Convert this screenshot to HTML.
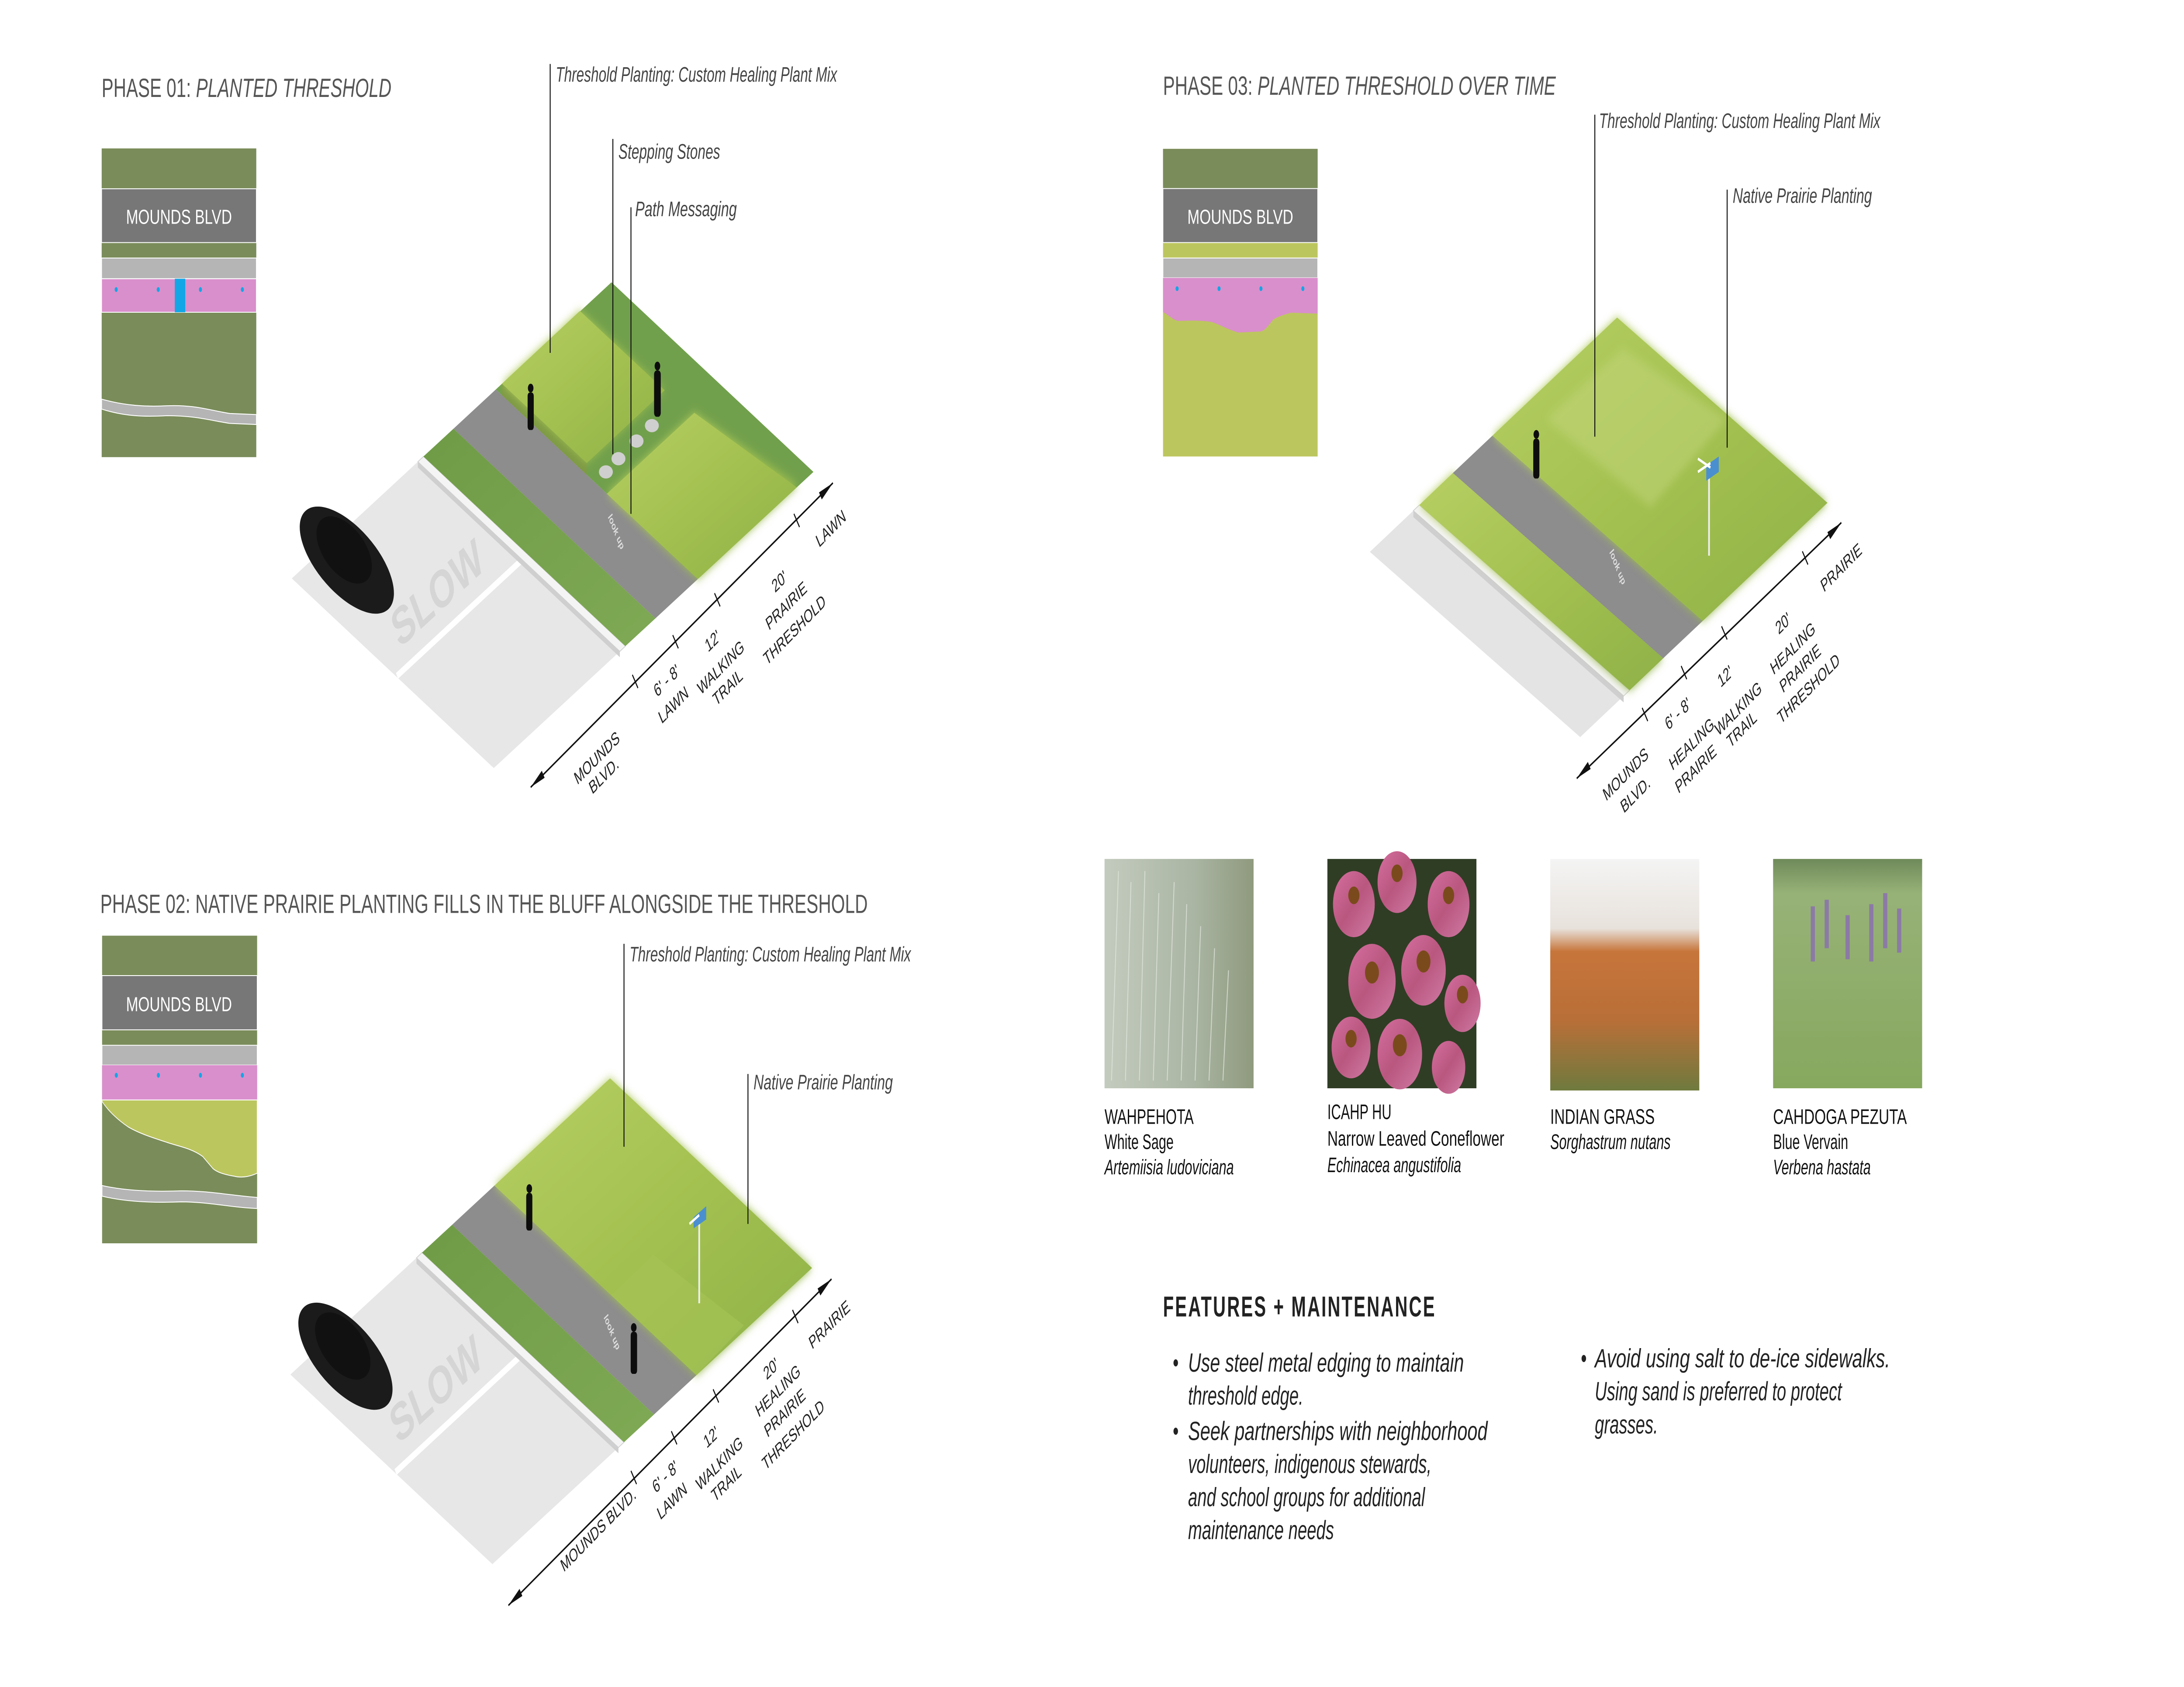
<!DOCTYPE html>
<html><head><meta charset="utf-8"><style>
html,body{margin:0;padding:0;background:#fff;overflow:hidden;width:100vw;height:100vh;}
svg{display:block;width:100vw;height:100vh;position:absolute;left:0;top:0;}
text{font-family:"Liberation Sans",sans-serif;}
</style></head><body>
<svg xmlns="http://www.w3.org/2000/svg" viewBox="0 0 1568 765" preserveAspectRatio="none">
<defs>
<filter id="blur" x="-20%" y="-20%" width="140%" height="140%"><feGaussianBlur stdDeviation="2.2"/></filter>
<linearGradient id="prairie" x1="0" y1="0" x2="1" y2="1">
<stop offset="0" stop-color="#b7cf63"/><stop offset="0.5" stop-color="#a3c150"/><stop offset="1" stop-color="#8fb148"/></linearGradient>
<linearGradient id="lawn" x1="0" y1="0" x2="1" y2="1">
<stop offset="0" stop-color="#6f9b47"/><stop offset="1" stop-color="#7fa954"/></linearGradient>
<linearGradient id="sage" x1="0" y1="0" x2="1" y2="0">
<stop offset="0" stop-color="#c3cbbe"/><stop offset="0.6" stop-color="#aab5a3"/><stop offset="1" stop-color="#8f9a7e"/></linearGradient>
<linearGradient id="cone" x1="0" y1="0" x2="1" y2="1">
<stop offset="0" stop-color="#d66fa0"/><stop offset="0.5" stop-color="#b9577f"/><stop offset="1" stop-color="#d07aa4"/></linearGradient>
<linearGradient id="grass" x1="0" y1="0" x2="0" y2="1">
<stop offset="0" stop-color="#f4f4f4"/><stop offset="0.3" stop-color="#e8e2dc"/><stop offset="0.4" stop-color="#c7753a"/><stop offset="0.7" stop-color="#b86f38"/><stop offset="1" stop-color="#6f7a3e"/></linearGradient>
<linearGradient id="verv" x1="0" y1="0" x2="0" y2="1">
<stop offset="0" stop-color="#6f8a5a"/><stop offset="0.15" stop-color="#97b277"/><stop offset="1" stop-color="#86a85e"/></linearGradient>
</defs>

<text x="73" y="44" font-size="12" fill="#555" textLength="208" lengthAdjust="spacingAndGlyphs">PHASE 01:  <tspan font-style="italic">PLANTED THRESHOLD</tspan></text>
<text x="72" y="414" font-size="12" fill="#555" textLength="551" lengthAdjust="spacingAndGlyphs">PHASE 02: NATIVE PRAIRIE PLANTING FILLS IN THE BLUFF ALONGSIDE THE THRESHOLD</text>
<text x="835" y="43" font-size="12" fill="#555" textLength="282" lengthAdjust="spacingAndGlyphs">PHASE 03:  <tspan font-style="italic">PLANTED THRESHOLD OVER TIME</tspan></text>

<g>
<rect x="73" y="67.3" width="111" height="140" fill="#7a8c5a"/>
<rect x="73" y="85.6" width="111" height="24.4" fill="#777" stroke="#fff" stroke-width="0.4"/>
<text x="128.5" y="101.5" font-size="9.2" fill="#fff" text-anchor="middle" textLength="76" lengthAdjust="spacingAndGlyphs">MOUNDS BLVD</text>
<rect x="73" y="117" width="111" height="9.4" fill="#b5b5b5" stroke="#fff" stroke-width="0.4"/>
<rect x="73" y="126.4" width="111" height="15.2" fill="#d98fcb" stroke="#fff" stroke-width="0.4"/>
<rect x="125.5" y="126.4" width="7.5" height="15.2" fill="#12a6e6"/>
<circle cx="83.4" cy="131.3" r="1.1" fill="#12a6e6"/><circle cx="113.6" cy="131.3" r="1.1" fill="#12a6e6"/>
<circle cx="143.9" cy="131.3" r="1.1" fill="#12a6e6"/><circle cx="174" cy="131.3" r="1.1" fill="#12a6e6"/>
<path d="M73,181 C90,184 105,184.5 120,184 C140,183.5 150,186 165,187.5 L184,188 L184,192.5 L165,192 C150,190.5 140,188.5 120,188.5 C105,189 90,189 73,185.5 Z" fill="#b5b5b5" stroke="#fff" stroke-width="0.4"/>
</g>

<g>
<rect x="73.3" y="424.3" width="111.3" height="139.5" fill="#7a8c5a"/>
<rect x="73.3" y="442.4" width="111.3" height="24.6" fill="#777" stroke="#fff" stroke-width="0.4"/>
<text x="128.5" y="458.5" font-size="9.2" fill="#fff" text-anchor="middle" textLength="76" lengthAdjust="spacingAndGlyphs">MOUNDS BLVD</text>
<rect x="73.3" y="474" width="111.3" height="9" fill="#b5b5b5" stroke="#fff" stroke-width="0.4"/>
<rect x="73.3" y="483" width="111.3" height="15.8" fill="#d98fcb"/>
<circle cx="83.5" cy="487.6" r="1.1" fill="#12a6e6"/><circle cx="113.7" cy="487.6" r="1.1" fill="#12a6e6"/>
<circle cx="143.9" cy="487.6" r="1.1" fill="#12a6e6"/><circle cx="174" cy="487.6" r="1.1" fill="#12a6e6"/>
<path d="M73.3,498.8 L184.6,498.8 L184.6,532 C178,534 172,534 168.4,533.4 C160,532.5 156,531.5 153,530 C149,527 147,525.5 145.5,524.4 C138,521 130,520 122.7,518.6 C110,516 100,514 92,511 C85,508 78,504 73.3,499.5 Z" fill="#bcc65e" stroke="#fff" stroke-width="0.4"/>
<path d="M73.3,537.6 C90,540 110,540.5 130,540 C150,540 165,542 184.6,543 L184.6,548 C165,547.5 150,545 130,545 C110,545.5 90,545 73.3,542.4 Z" fill="#b5b5b5" stroke="#fff" stroke-width="0.4"/>
</g>

<g>
<rect x="835" y="67.5" width="111" height="139.5" fill="#bcc65e"/>
<rect x="835" y="67.5" width="111" height="18" fill="#7a8c5a"/>
<rect x="835" y="85.5" width="111" height="24.5" fill="#777" stroke="#fff" stroke-width="0.4"/>
<text x="890.5" y="101.5" font-size="9.2" fill="#fff" text-anchor="middle" textLength="76" lengthAdjust="spacingAndGlyphs">MOUNDS BLVD</text>
<rect x="835" y="117" width="111" height="9" fill="#b5b5b5" stroke="#fff" stroke-width="0.4"/>
<path d="M835,126 L946,126 L946,142.2 L927,141.8 C920,143 916,144 914,145 C910,148 908,150 905,150.3 L889,150.8 C880,149 875,147 869.8,146 C860,145 852,145.5 845.5,145.5 C842,145 838,142.5 835,141.5 Z" fill="#d98fcb"/>
<circle cx="845.1" cy="130.9" r="1.1" fill="#12a6e6"/><circle cx="875.2" cy="130.9" r="1.1" fill="#12a6e6"/>
<circle cx="905.3" cy="130.9" r="1.1" fill="#12a6e6"/><circle cx="935.4" cy="130.9" r="1.1" fill="#12a6e6"/>
</g>

<!-- PHASE 01 -->
<g>
<polygon points="300,209.4 445,295.4 354.5,348.3 209.5,262.3" fill="#e7e7e7"/>
<line x1="375.3" y1="253.6" x2="285" y2="306.5" stroke="#fff" stroke-width="3"/>
<text transform="translate(318,276) rotate(-30.3)" font-size="24" font-weight="bold" fill="#d5d5d5" text-anchor="middle">SLOW</text>
<g transform="translate(249,254) rotate(30.7)">
<ellipse cx="0" cy="0" rx="38" ry="17" fill="#1b1b1b"/>
<ellipse cx="-4" cy="-3" rx="22" ry="12" fill="#111"/>
</g>
<polygon points="300,209.4 304,207 449,293 445,295.4" fill="#f4f4f4" stroke="#cfcfcf" stroke-width="0.4"/>
<polygon points="300,209.4 445,295.4 445,298 300,212" fill="#cfcfcf"/>
<polygon points="449,293 304,207 325.6,194.4 470.6,280.4" fill="url(#lawn)"/>
<polygon points="470.6,280.4 325.6,194.4 356,176.6 501,262.6" fill="#8d8d8d"/>
<polygon points="501,262.6 356,176.6 439,128 584,214" fill="#71a04c"/>
<polygon points="501,262.6 435.7,223.9 498.5,187.2 573,220" fill="url(#prairie)" filter="url(#blur)"/>
<polygon points="501,262.6 435.7,223.9 498.5,187.2 572,221" fill="url(#prairie)"/>
<polygon points="421.25,215.3 360.35,179.2 360.35,174 421.25,210" fill="#7e9a45"/>
<polygon points="421.25,210 360.35,174 416.35,141 477.25,177" fill="url(#prairie)" filter="url(#blur)"/>
<polygon points="421.25,210 360.35,174 416.35,141 477.25,177" fill="url(#prairie)"/>
<ellipse cx="435" cy="214" rx="5" ry="3" fill="#cfcfcf"/>
<ellipse cx="444" cy="208" rx="5" ry="3" fill="#cfcfcf"/>
<ellipse cx="457" cy="200" rx="5" ry="3" fill="#cfcfcf"/>
<ellipse cx="468" cy="193" rx="5" ry="3" fill="#cfcfcf"/>
<g fill="#0d0d0d"><circle cx="381" cy="176" r="2"/><rect x="378.8" y="178" width="4.4" height="17" rx="1.5"/></g>
<g fill="#0d0d0d"><circle cx="472" cy="166" r="2"/><rect x="469.6" y="168" width="4.8" height="21" rx="1.8"/></g>
<text transform="translate(441,242) rotate(58)" font-size="5" font-weight="bold" fill="#ddd" text-anchor="middle">look up</text>
<line x1="395" y1="29" x2="395" y2="160" stroke="#111" stroke-width="0.7"/>
<text x="399" y="37" font-size="9.6" font-style="italic" fill="#444" textLength="202" lengthAdjust="spacingAndGlyphs">Threshold Planting: Custom Healing Plant Mix</text>
<line x1="440" y1="63" x2="440" y2="206" stroke="#111" stroke-width="0.7"/>
<text x="444" y="72" font-size="9.6" font-style="italic" fill="#444" textLength="73" lengthAdjust="spacingAndGlyphs">Stepping Stones</text>
<line x1="453" y1="94" x2="453" y2="233" stroke="#111" stroke-width="0.7"/>
<text x="456" y="98" font-size="9.6" font-style="italic" fill="#444" textLength="73" lengthAdjust="spacingAndGlyphs">Path Messaging</text>
<line x1="381" y1="357" x2="598" y2="219" stroke="#111" stroke-width="0.8"/>
<polygon points="381,357 389,349.5 391,352.7" fill="#111"/>
<polygon points="598,219 588,223.3 590,226.5" fill="#111"/>
<g stroke="#111" stroke-width="0.7">
<line x1="454" y1="306" x2="458" y2="312"/><line x1="483" y1="288" x2="487" y2="294"/>
<line x1="513" y1="269" x2="517" y2="275"/><line x1="570" y1="233" x2="574" y2="239"/>
</g>
<g font-size="8.3" fill="#222" text-anchor="middle">
<text transform="translate(430,346) rotate(-33)">MOUNDS</text>
<text transform="translate(435,354) rotate(-33)">BLVD.</text>
<text transform="translate(480,311) rotate(-33)">6' - 8'</text>
<text transform="translate(485,322) rotate(-33)">LAWN</text>
<text transform="translate(513,293) rotate(-33)">12'</text>
<text transform="translate(519,305) rotate(-33)">WALKING</text>
<text transform="translate(524,314) rotate(-33)">TRAIL</text>
<text transform="translate(561,266) rotate(-33)">20'</text>
<text transform="translate(566,277) rotate(-33)">PRAIRIE</text>
<text transform="translate(572,288) rotate(-33)">THRESHOLD</text>
<text transform="translate(598,242) rotate(-33)">LAWN</text>
</g>
</g>

<!-- PHASE 02 -->
<g transform="translate(-1,361)">
<polygon points="300,209.4 445,295.4 354.5,348.3 209.5,262.3" fill="#e7e7e7"/>
<line x1="375.3" y1="253.6" x2="285" y2="306.5" stroke="#fff" stroke-width="3"/>
<text transform="translate(318,276) rotate(-30.3)" font-size="24" font-weight="bold" fill="#d5d5d5" text-anchor="middle">SLOW</text>
<g transform="translate(249,254) rotate(30.7)">
<ellipse cx="0" cy="0" rx="38" ry="17" fill="#1b1b1b"/>
<ellipse cx="-4" cy="-3" rx="22" ry="12" fill="#111"/>
</g>
<polygon points="300,209.4 304,207 449,293 445,295.4" fill="#f4f4f4" stroke="#cfcfcf" stroke-width="0.4"/>
<polygon points="300,209.4 445,295.4 445,298 300,212" fill="#cfcfcf"/>
<polygon points="449,293 304,207 325.6,194.4 470.6,280.4" fill="url(#lawn)"/>
<polygon points="470.6,280.4 325.6,194.4 356,176.6 501,262.6" fill="#8d8d8d"/>
<polygon points="501,262.6 356,176.6 439,128 584,214" fill="url(#prairie)" filter="url(#blur)"/>
<polygon points="501,262.6 356,176.6 439,128 584,214" fill="url(#prairie)"/>
<polygon points="501,262.6 440,226.4 470,208 535,240" fill="#a6c457" opacity="0.6"/>
<line x1="503" y1="192" x2="503" y2="230" stroke="#f0f0f0" stroke-width="1.2"/>
<polygon points="499,191 508,186 508,192 499,196" fill="#4a8fd0"/>
<line x1="496" y1="194" x2="503" y2="190" stroke="#fff" stroke-width="1.2"/>
<g fill="#0d0d0d"><circle cx="381" cy="178" r="2"/><rect x="378.8" y="180" width="4.4" height="17" rx="1.5"/></g>
<g fill="#0d0d0d"><circle cx="456" cy="241" r="2"/><rect x="453.8" y="243" width="4.6" height="19" rx="1.5"/></g>
<text transform="translate(439,244) rotate(58)" font-size="5" font-weight="bold" fill="#ddd" text-anchor="middle">look up</text>
<line x1="366" y1="367" x2="598" y2="219" stroke="#111" stroke-width="0.8"/>
<polygon points="366,367 374,359.5 376,362.7" fill="#111"/>
<polygon points="598,219 588,223.3 590,226.5" fill="#111"/>
<g stroke="#111" stroke-width="0.7">
<line x1="454" y1="306" x2="458" y2="312"/><line x1="483" y1="288" x2="487" y2="294"/>
<line x1="513" y1="269" x2="517" y2="275"/><line x1="570" y1="233" x2="574" y2="239"/>
</g>
<g font-size="8.3" fill="#222" text-anchor="middle">
<text transform="translate(432,335) rotate(-33)">MOUNDS BLVD.</text>
<text transform="translate(480,311) rotate(-33)">6' - 8'</text>
<text transform="translate(485,322) rotate(-33)">LAWN</text>
<text transform="translate(513,293) rotate(-33)">12'</text>
<text transform="translate(519,305) rotate(-33)">WALKING</text>
<text transform="translate(524,314) rotate(-33)">TRAIL</text>
<text transform="translate(556,262) rotate(-33)">20'</text>
<text transform="translate(561,272) rotate(-33)">HEALING</text>
<text transform="translate(566,282) rotate(-33)">PRAIRIE</text>
<text transform="translate(572,292) rotate(-33)">THRESHOLD</text>
<text transform="translate(598,242) rotate(-33)">PRAIRIE</text>
</g>
</g>
<line x1="448" y1="428" x2="448" y2="520" stroke="#111" stroke-width="0.7"/>
<text x="452" y="436" font-size="9.6" font-style="italic" fill="#444" textLength="202" lengthAdjust="spacingAndGlyphs">Threshold Planting: Custom Healing Plant Mix</text>
<line x1="537" y1="487" x2="537" y2="555" stroke="#111" stroke-width="0.7"/>
<text x="541" y="494" font-size="9.6" font-style="italic" fill="#444" textLength="100" lengthAdjust="spacingAndGlyphs">Native Prairie Planting</text>

<!-- PHASE 03 -->
<g>
<polygon points="1014.7,231.6 1165.7,315.6 1134.5,334.25 983.5,250.25" fill="#e4e4e4"/>
<polygon points="1014.7,231.6 1019,229 1170,313 1165.7,315.6" fill="#f4f4f4" stroke="#cfcfcf" stroke-width="0.4"/>
<polygon points="1014.7,231.6 1165.7,315.6 1165.7,318.5 1014.7,234.5" fill="#cfcfcf"/>
<polygon points="1170,313 1019,229 1043.1,214.5 1194.1,298.5" fill="url(#prairie)" filter="url(#blur)"/>
<polygon points="1170,313 1019,229 1043.1,214.5 1194.1,298.5" fill="url(#prairie)"/>
<polygon points="1194.1,298.5 1043.1,214.5 1071.5,197.55 1222.5,281.55" fill="#8d8d8d"/>
<polygon points="1222.5,281.55 1071.5,197.55 1161,144 1312,228" fill="url(#prairie)" filter="url(#blur)"/>
<polygon points="1222.5,281.55 1071.5,197.55 1161,144 1312,228" fill="url(#prairie)"/>
<polygon points="1110,190 1165,158 1240,190 1185,230" fill="#c4d67c" opacity="0.5" filter="url(#blur)"/>
<line x1="1227" y1="210" x2="1227" y2="252" stroke="#f0f0f0" stroke-width="1.2"/>
<polygon points="1225,211 1234,207 1234,214 1225,218" fill="#4a8fd0"/>
<line x1="1219" y1="208" x2="1228" y2="212" stroke="#fff" stroke-width="1.2"/>
<line x1="1219" y1="214" x2="1228" y2="210" stroke="#fff" stroke-width="1.2"/>
<g fill="#0d0d0d"><circle cx="1103" cy="197" r="2"/><rect x="1100.8" y="199" width="4.4" height="18" rx="1.5"/></g>
<text transform="translate(1160,258) rotate(58)" font-size="5" font-weight="bold" fill="#ddd" text-anchor="middle">look up</text>
<line x1="1145" y1="52" x2="1145" y2="198" stroke="#111" stroke-width="0.7"/>
<text x="1148" y="58" font-size="9.6" font-style="italic" fill="#444" textLength="202" lengthAdjust="spacingAndGlyphs">Threshold Planting: Custom Healing Plant Mix</text>
<line x1="1240" y1="86" x2="1240" y2="203" stroke="#111" stroke-width="0.7"/>
<text x="1244" y="92" font-size="9.6" font-style="italic" fill="#444" textLength="100" lengthAdjust="spacingAndGlyphs">Native Prairie Planting</text>
<line x1="1132" y1="353" x2="1322" y2="237" stroke="#111" stroke-width="0.8"/>
<polygon points="1132,353 1140,345.5 1142,348.7" fill="#111"/>
<polygon points="1322,237 1312,241.3 1314,244.5" fill="#111"/>
<g stroke="#111" stroke-width="0.7">
<line x1="1179" y1="321" x2="1183" y2="327"/><line x1="1207" y1="302" x2="1211" y2="308"/>
<line x1="1236" y1="284" x2="1240" y2="290"/><line x1="1294" y1="250" x2="1298" y2="256"/>
</g>
<g font-size="8.3" fill="#222" text-anchor="middle">
<text transform="translate(1168.6,353.4) rotate(-33)">MOUNDS</text>
<text transform="translate(1175.6,362.6) rotate(-33)">BLVD.</text>
<text transform="translate(1206,326) rotate(-33)">6' - 8'</text>
<text transform="translate(1216,339.7) rotate(-33)">HEALING</text>
<text transform="translate(1219,351) rotate(-33)">PRAIRIE</text>
<text transform="translate(1240,309) rotate(-33)">12'</text>
<text transform="translate(1249.5,323.7) rotate(-33)">WALKING</text>
<text transform="translate(1252,333) rotate(-33)">TRAIL</text>
<text transform="translate(1281.6,285) rotate(-33)">20'</text>
<text transform="translate(1288.6,296.3) rotate(-33)">HEALING</text>
<text transform="translate(1294,305.4) rotate(-33)">PRAIRIE</text>
<text transform="translate(1300,314.6) rotate(-33)">THRESHOLD</text>
<text transform="translate(1323.4,259.7) rotate(-33)">PRAIRIE</text>
</g>
</g>

<!-- PLANT PHOTOS -->
<rect x="793" y="389.5" width="107" height="104" fill="url(#sage)"/>
<g stroke="#dfe5dc" stroke-width="0.6" opacity="0.8">
<line x1="798" y1="490" x2="803" y2="395"/><line x1="808" y1="490" x2="812" y2="400"/><line x1="818" y1="490" x2="822" y2="395"/>
<line x1="828" y1="490" x2="832" y2="405"/><line x1="838" y1="490" x2="843" y2="400"/><line x1="848" y1="490" x2="852" y2="410"/>
<line x1="858" y1="490" x2="862" y2="420"/><line x1="868" y1="490" x2="872" y2="430"/><line x1="878" y1="490" x2="882" y2="440"/>
</g>
<rect x="953" y="389.5" width="107" height="104" fill="#2f3d24"/>
<g fill="url(#cone)">
<circle cx="972" cy="410" r="15"/><circle cx="1003" cy="400" r="14"/><circle cx="1040" cy="410" r="15"/>
<circle cx="985" cy="445" r="17"/><circle cx="1022" cy="440" r="16"/><circle cx="1050" cy="455" r="13"/>
<circle cx="970" cy="475" r="14"/><circle cx="1005" cy="478" r="16"/><circle cx="1040" cy="484" r="12"/>
</g>
<g fill="#7a4a1c">
<circle cx="972" cy="406" r="4"/><circle cx="1003" cy="396" r="4"/><circle cx="1040" cy="406" r="4"/>
<circle cx="985" cy="441" r="5"/><circle cx="1022" cy="436" r="5"/><circle cx="1050" cy="451" r="4"/>
<circle cx="970" cy="471" r="4"/><circle cx="1005" cy="474" r="5"/>
</g>
<rect x="1113" y="389.5" width="107" height="105" fill="url(#grass)"/>
<rect x="1273" y="389.5" width="107" height="104" fill="url(#verv)"/>
<g fill="#8a6db3" opacity="0.8">
<rect x="1300" y="411" width="3" height="25"/><rect x="1310" y="408" width="3" height="22"/><rect x="1325" y="415" width="3" height="20"/>
<rect x="1342" y="410" width="3" height="26"/><rect x="1352" y="405" width="3" height="25"/><rect x="1362" y="412" width="3" height="20"/>
</g>

<g font-size="9.6" fill="#111">
<text x="793" y="509.6" textLength="64" lengthAdjust="spacingAndGlyphs">WAHPEHOTA</text>
<text x="793" y="521">White Sage</text>
<text x="793" y="532.5" font-style="italic">Artemiisia ludoviciana</text>
<text x="953" y="507.5" textLength="46" lengthAdjust="spacingAndGlyphs">ICAHP HU</text>
<text x="953" y="519.5" textLength="127" lengthAdjust="spacingAndGlyphs">Narrow Leaved Coneflower</text>
<text x="953" y="531.5" font-style="italic">Echinacea angustifolia</text>
<text x="1113" y="509.6" textLength="75" lengthAdjust="spacingAndGlyphs">INDIAN GRASS</text>
<text x="1113" y="521" font-style="italic">Sorghastrum nutans</text>
<text x="1273" y="509.6" textLength="96" lengthAdjust="spacingAndGlyphs">CAHDOGA PEZUTA</text>
<text x="1273" y="521">Blue Vervain</text>
<text x="1273" y="532.5" font-style="italic">Verbena hastata</text>
</g>

<text x="835" y="597" font-size="13" font-weight="bold" fill="#222" letter-spacing="1" textLength="196" lengthAdjust="spacingAndGlyphs">FEATURES + MAINTENANCE</text>
<g font-size="12" font-style="italic" fill="#222">
<text x="842" y="622" font-style="normal">•</text>
<text x="853" y="622" textLength="198" lengthAdjust="spacingAndGlyphs">Use steel metal edging to maintain</text>
<text x="853" y="637">threshold edge.</text>
<text x="842" y="653" font-style="normal">•</text>
<text x="853" y="653" textLength="215" lengthAdjust="spacingAndGlyphs">Seek partnerships with neighborhood</text>
<text x="853" y="668">volunteers, indigenous stewards,</text>
<text x="853" y="683">and school groups for additional</text>
<text x="853" y="698">maintenance needs</text>
<text x="1135" y="620" font-style="normal">•</text>
<text x="1145" y="620" textLength="212" lengthAdjust="spacingAndGlyphs">Avoid using salt to de-ice sidewalks.</text>
<text x="1145" y="635">Using sand is preferred to protect</text>
<text x="1145" y="650">grasses.</text>
</g>
</svg>
</body></html>
